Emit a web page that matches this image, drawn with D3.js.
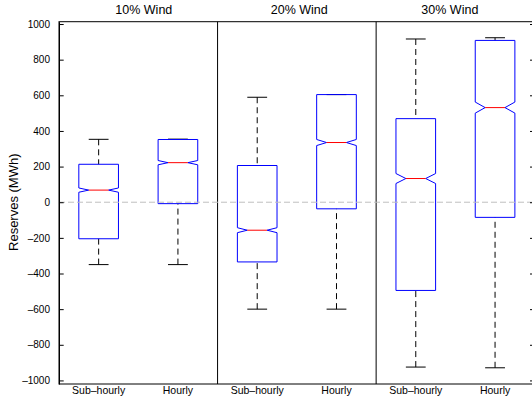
<!DOCTYPE html>
<html>
<head>
<meta charset="utf-8">
<script src="https://cdn.jsdelivr.net/npm/d3@7"></script>
<style>
  body { margin: 0; background: #fff; }
  svg { display: block; font-family: "Liberation Sans", Arial, Helvetica, sans-serif; }
</style>
</head>
<body>
<svg id="chart" width="532" height="403"></svg>
<script>
// data (MWh)
const panels = ['10% Wind', '20% Wind', '30% Wind'];
const categories = ['Sub\u2013hourly', 'Hourly', 'Sub\u2013hourly', 'Hourly', 'Sub\u2013hourly', 'Hourly'];
const whiskerLow = [-350, -350, -600, -600, -925, -929];
const q1 = [-205, -8, -335, -37, -495, -85];
const median = [68, 222, -157, 335, 133, 531];
const q3 = [213, 352, 206, 604, 469, 908];
const whiskerHigh = [353, 354, 589, 604, 916, 923];
const notch = [12, 12, 14, 17, 28, 31];
const yTicks = [-1000, -800, -600, -400, -200, 0, 200, 400, 600, 800, 1000];

const width = 532;
const height = 403;
const m = { left: 59, right: 534.7, top: 21.7, bottom: 384 };

const svg = d3.select('#chart');

const x = d3.scaleLinear().domain([0.5, 6.5]).range([m.left, m.right]);
const y = d3.scaleLinear().domain([-1020, 1013]).range([m.bottom, m.top]);

const boxW = 0.5;
const capW = 0.25;
const notchIn = boxW / 4;

const boxes = categories.map((c, i) => ({
  pos: i + 1, cat: c,
  lo: whiskerLow[i], q1: q1[i], med: median[i], q3: q3[i], hi: whiskerHigh[i], n: notch[i]
}));

// panel separators
svg.append('g')
  .selectAll('line')
  .data([2.5, 4.5])
  .join('line')
  .attr('x1', d => x(d)).attr('x2', d => x(d))
  .attr('y1', m.top).attr('y2', m.bottom)
  .attr('stroke', '#000');

const g = svg.append('g');

// whiskers
g.selectAll('line.wlo')
  .data(boxes)
  .join('line')
  .attr('class', 'wlo')
  .attr('x1', d => x(d.pos)).attr('x2', d => x(d.pos))
  .attr('y1', d => y(d.lo)).attr('y2', d => y(d.q1))
  .attr('stroke', '#000')
  .attr('stroke-dasharray', '6,4');

g.selectAll('line.whi')
  .data(boxes)
  .join('line')
  .attr('class', 'whi')
  .attr('x1', d => x(d.pos)).attr('x2', d => x(d.pos))
  .attr('y1', d => y(d.hi)).attr('y2', d => y(d.q3))
  .attr('stroke', '#000')
  .attr('stroke-dasharray', '6,4');

// caps
['lo', 'hi'].forEach(k => {
  g.selectAll('line.cap' + k)
    .data(boxes)
    .join('line')
    .attr('class', 'cap' + k)
    .attr('x1', d => x(d.pos - capW / 2)).attr('x2', d => x(d.pos + capW / 2))
    .attr('y1', d => y(d[k])).attr('y2', d => y(d[k]))
    .attr('stroke', '#000');
});

// notched boxes
g.selectAll('path.box')
  .data(boxes)
  .join('path')
  .attr('class', 'box')
  .attr('d', d => {
    const l = x(d.pos - boxW / 2), r = x(d.pos + boxW / 2);
    const li = x(d.pos - boxW / 2 + notchIn), ri = x(d.pos + boxW / 2 - notchIn);
    return `M${l},${y(d.q1)}L${l},${y(d.med - d.n)}L${li},${y(d.med)}L${l},${y(d.med + d.n)}` +
      `L${l},${y(d.q3)}L${r},${y(d.q3)}L${r},${y(d.med + d.n)}L${ri},${y(d.med)}` +
      `L${r},${y(d.med - d.n)}L${r},${y(d.q1)}Z`;
  })
  .attr('fill', 'none')
  .attr('stroke', '#0000ff');

// medians
g.selectAll('line.med')
  .data(boxes)
  .join('line')
  .attr('class', 'med')
  .attr('x1', d => x(d.pos - boxW / 2 + notchIn)).attr('x2', d => x(d.pos + boxW / 2 - notchIn))
  .attr('y1', d => y(d.med)).attr('y2', d => y(d.med))
  .attr('stroke', '#ff0000');

// zero reference line
svg.append('line')
  .attr('x1', m.left).attr('x2', m.right)
  .attr('y1', y(0)).attr('y2', y(0))
  .attr('stroke', '#bfbfbf')
  .attr('stroke-dasharray', '6,3');

// frame
svg.append('rect')
  .attr('x', m.left).attr('y', m.top)
  .attr('width', m.right - m.left).attr('height', m.bottom - m.top)
  .attr('fill', 'none')
  .attr('stroke', '#000');

// left axis (ticks inward)
const yAxis = svg.append('g')
  .attr('transform', `translate(${m.left},0)`)
  .call(d3.axisLeft(y).tickValues(yTicks).tickSizeInner(-4.7).tickSizeOuter(0).tickPadding(9)
    .tickFormat(d => d3.format('d')(d).replace(/[-\u2212]/, '\u2013')));
yAxis.select('.domain').attr('stroke', '#000');
yAxis.selectAll('text').attr('font-size', 10).attr('fill', '#000');
yAxis.attr('font-family', null);

// right axis ticks only
const yAxisR = svg.append('g')
  .attr('transform', `translate(${m.right},0)`)
  .call(d3.axisRight(y).tickValues(yTicks).tickSizeInner(-4.7).tickSizeOuter(0).tickFormat(''));
yAxisR.select('.domain').remove();

// category labels
svg.append('g')
  .selectAll('text')
  .data(boxes)
  .join('text')
  .attr('x', d => x(d.pos))
  .attr('y', 394)
  .attr('text-anchor', 'middle')
  .attr('font-size', 10.5)
  .text(d => d.cat);

// panel titles
const titlePos = [1.57, 3.53, 5.43];
svg.append('g')
  .selectAll('text')
  .data(panels)
  .join('text')
  .attr('x', (d, i) => x(titlePos[i]))
  .attr('y', 14)
  .attr('text-anchor', 'middle')
  .attr('font-size', 12.5)
  .text(d => d);

// y label
svg.append('text')
  .attr('transform', `translate(18,${y(0)}) rotate(-90)`)
  .attr('text-anchor', 'middle')
  .attr('font-size', 13)
  .text('Reserves (MWh)');
</script>
</body>
</html>
